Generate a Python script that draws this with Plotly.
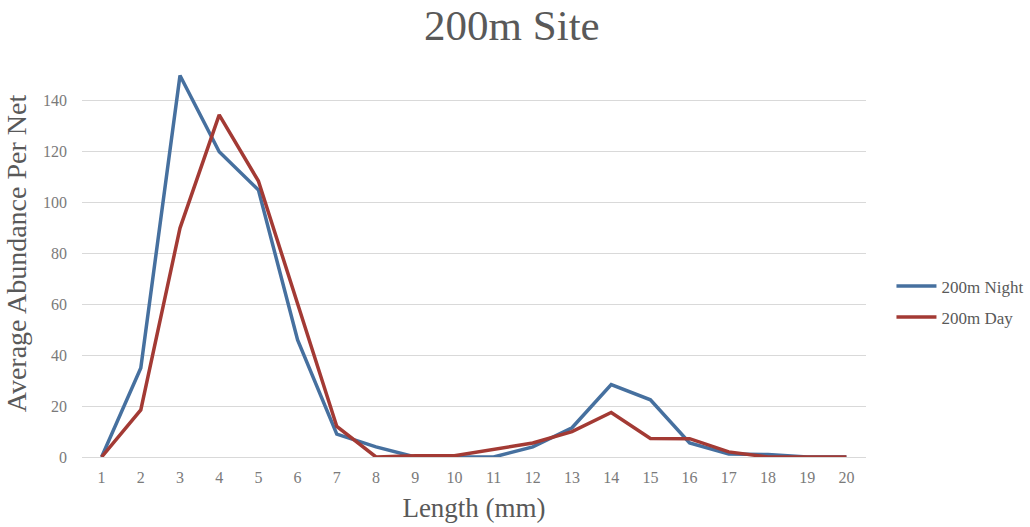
import plotly.graph_objects as go

# Size classes (mm) and mean catch per net at the 200 m site
lengths = [str(i) for i in range(1, 21)]
night = [0, 35, 150, 120, 105, 46, 9, 4, 0, 0, 0, 4, 11.5, 28.5, 22.5, 5.5, 1.2, 1, 0, 0]
day = [0, 18.5, 90, 134.5, 108.5, 60.5, 12, 0, 0.5, 0.5, 3, 5.5, 10, 17.5, 7.3, 7.2, 2, 0, 0, 0]
y_ticks = [0, 20, 40, 60, 80, 100, 120, 140]

serif = "Liberation Serif, DejaVu Serif, serif"
grey = "#595959"
tick_grey = "#7A7A7A"

fig = go.Figure()
fig.add_trace(go.Scatter(x=lengths, y=night, mode="lines", name="200m Night",
                         legendgroup="night",
                         line=dict(color="#46709F", width=3.5)))
fig.add_trace(go.Scatter(x=lengths, y=day, mode="lines", name="200m Day",
                         legendgroup="day",
                         line=dict(color="#A33A34", width=3.5)))

fig.update_layout(
    width=1030, height=527,
    margin=dict(l=82, r=164, t=50, b=70, autoexpand=False),
    paper_bgcolor="white", plot_bgcolor="white",
    font=dict(family=serif, color=grey),
    title=dict(text="200m Site", x=0.497, xanchor="center", y=0.952, yanchor="middle",
               font=dict(family=serif, size=43, color=grey)),
    showlegend=True,
    legend=dict(xref="container", yref="container", x=0.8655, y=0.427,
                xanchor="left", yanchor="middle",
                font=dict(family=serif, size=17, color=grey),
                tracegroupgap=6, itemwidth=40),
    xaxis=dict(type="category", range=[-0.5, 19.5], showgrid=False, automargin=False,
               showline=True, linecolor="#D9D9D9", linewidth=1,
               ticks="", tickfont=dict(size=16, color=tick_grey), ticklabelstandoff=6,
               title=dict(text="Length (mm)", font=dict(size=27, color=grey), standoff=12)),
    yaxis=dict(range=[0, 160], tickvals=y_ticks, showgrid=True, gridcolor="#D9D9D9",
               gridwidth=1, zeroline=False, showline=False, ticks="", automargin=False,
               tickfont=dict(size=16, color=tick_grey), ticklabelstandoff=14,
               title=dict(text="Average Abundance Per Net", font=dict(size=28, color=grey),
                          standoff=8)),
)

fig.write_html("out.html")
